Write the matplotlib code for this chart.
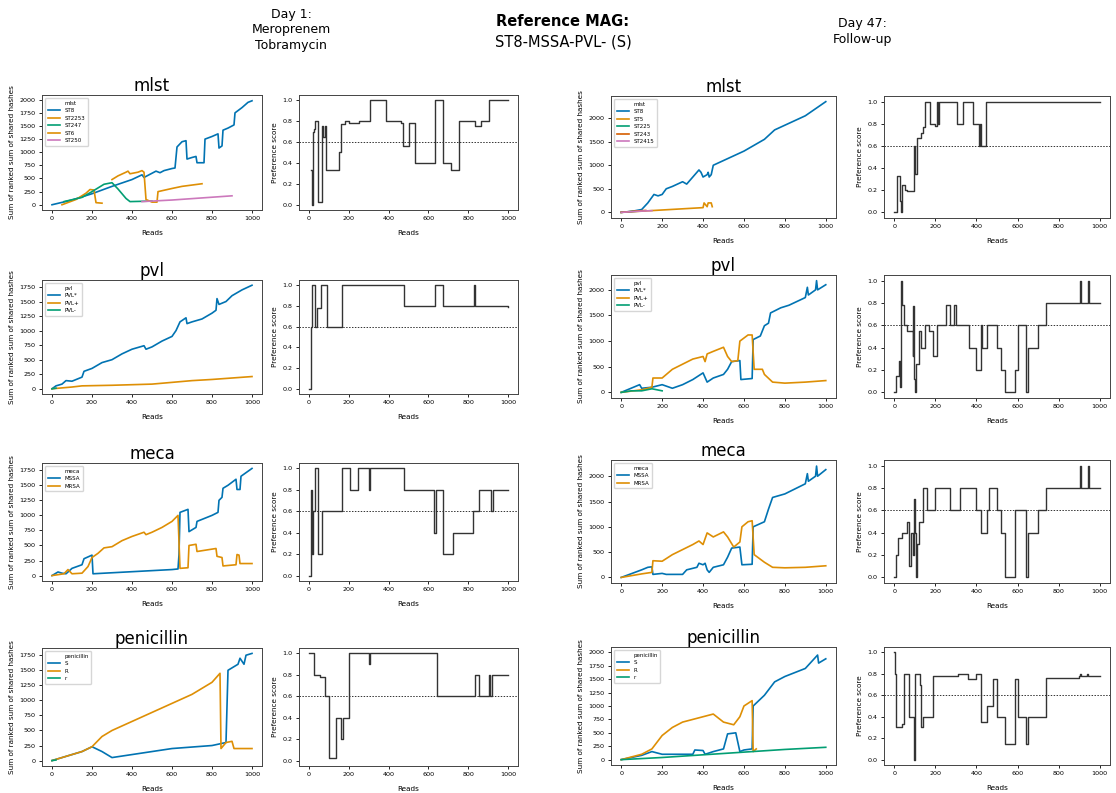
import matplotlib
matplotlib.use("Agg")
import matplotlib.pyplot as plt
from matplotlib.lines import Line2D

plt.rcParams['font.family'] = ['DejaVu Sans']

# seaborn "colorblind" palette
BLUE, ORANGE, GREEN, VERM, PINK = "#0173b2", "#de8f05", "#029e73", "#d55e00", "#cc78bc"

# ---------------- Day 1 data (read, value) ----------------
d1_mlst_st8 = [(0, 0), (100, 90), (200, 210), (300, 350), (400, 480), (450, 570), (460, 520),
               (480, 560), (520, 640), (540, 610), (560, 650), (600, 690), (615, 700), (625, 1100),
               (650, 1200), (670, 1220), (675, 870), (700, 900), (720, 920), (725, 800), (760, 800),
               (765, 1250), (800, 1300), (830, 1350), (835, 1080), (850, 1120), (855, 1420),
               (880, 1460), (910, 1520), (915, 1750), (950, 1850), (980, 1950), (1000, 1980)]
d1_mlst_st2253 = [(50, 0), (120, 100), (170, 220), (190, 290), (210, 280), (220, 40), (250, 30)]
d1_mlst_st247 = [(60, 60), (150, 140), (200, 250), (260, 390), (300, 420), (330, 300), (370, 120),
                 (390, 60), (500, 70)]
d1_mlst_st6 = [(300, 480), (330, 550), (370, 620), (380, 640), (390, 590), (430, 620), (450, 650),
               (460, 620), (470, 100), (500, 50), (525, 50), (530, 250), (600, 310), (650, 350),
               (750, 400)]
d1_mlst_st250 = [(450, 60), (600, 90), (750, 130), (900, 170)]

d1_mlst_pref = [(10, 0.33), (15, 0.0), (20, 0.7), (25, 0.72), (30, 0.8), (40, 0.8), (45, 0.03),
                (60, 0.03), (65, 0.75), (70, 0.65), (80, 0.75), (85, 0.33), (145, 0.33), (150, 0.5),
                (160, 0.77), (180, 0.8), (200, 0.78), (250, 0.8), (300, 0.8), (305, 1.0), (380, 1.0),
                (385, 0.8), (450, 0.8), (460, 0.78), (470, 0.56), (500, 0.56), (505, 0.78),
                (530, 0.78), (535, 0.4), (630, 0.4), (635, 1.0), (670, 1.0), (675, 0.4), (710, 0.4),
                (715, 0.33), (750, 0.33), (755, 0.8), (830, 0.8), (835, 0.75), (860, 0.75),
                (865, 0.8), (900, 0.8), (905, 1.0), (1000, 1.0)]

d1_pvl_plus = [(0, 0), (20, 50), (50, 80), (70, 140), (100, 130), (150, 200), (160, 300),
               (200, 350), (250, 450), (300, 500), (350, 600), (400, 680), (460, 740), (470, 680),
               (500, 720), (550, 820), (600, 900), (620, 1000), (640, 1150), (670, 1220),
               (675, 1120), (700, 1150), (750, 1200), (800, 1300), (820, 1350), (825, 1550),
               (835, 1450), (870, 1500), (900, 1600), (950, 1700), (1000, 1780)]
d1_pvl_pm = [(0, 0), (100, 30), (150, 50), (300, 60), (500, 80), (600, 110), (700, 140),
             (800, 160), (1000, 210)]
d1_pvl_minus = [(0, 0), (10, 5), (20, 10)]

d1_pvl_pref = [(0, 0.0), (10, 0.6), (15, 1.0), (25, 1.0), (30, 0.6), (40, 0.78), (60, 1.0),
               (85, 1.0), (90, 0.6), (160, 0.6), (165, 1.0), (470, 1.0), (475, 0.8), (630, 0.8),
               (635, 1.0), (670, 1.0), (675, 0.8), (825, 0.8), (830, 1.0), (835, 0.8),
               (1000, 0.79)]

d1_meca_mssa = [(0, 0), (30, 60), (50, 40), (70, 30), (100, 120), (150, 180), (160, 280),
                (200, 340), (205, 30), (600, 100), (630, 110), (635, 350), (640, 1050),
                (680, 1100), (685, 730), (720, 800), (725, 900), (800, 1000), (830, 1050),
                (835, 1250), (850, 1300), (855, 1450), (880, 1500), (920, 1600), (925, 1430),
                (940, 1430), (945, 1650), (1000, 1780)]
d1_meca_mrsa = [(0, 0), (60, 30), (80, 100), (100, 30), (150, 40), (180, 150), (200, 300),
                (230, 370), (260, 460), (300, 480), (350, 580), (400, 650), (460, 720),
                (470, 680), (500, 720), (550, 800), (600, 900), (630, 1000), (640, 120),
                (680, 130), (685, 500), (720, 520), (725, 400), (820, 450), (825, 320),
                (850, 300), (855, 160), (920, 180), (925, 350), (935, 340), (940, 200),
                (1000, 200)]

d1_meca_pref = [(0, 0.0), (10, 0.8), (15, 0.2), (20, 0.6), (30, 1.0), (40, 1.0), (45, 0.2),
                (60, 0.2), (65, 0.6), (160, 0.6), (165, 1.0), (200, 1.0), (205, 0.8), (240, 0.8),
                (245, 1.0), (300, 1.0), (302, 0.8), (305, 1.0), (470, 1.0), (475, 0.8),
                (625, 0.8), (630, 0.4), (640, 0.8), (670, 0.8), (675, 0.2), (720, 0.2),
                (725, 0.4), (820, 0.4), (825, 0.6), (850, 0.6), (855, 0.8), (910, 0.8),
                (912, 0.6), (925, 0.8), (1000, 0.8)]

d1_pen_s = [(0, 0), (100, 100), (150, 150), (200, 230), (250, 150), (300, 50), (600, 200),
            (800, 250), (870, 300), (880, 1500), (930, 1600), (940, 1700), (960, 1600),
            (970, 1750), (1000, 1780)]
d1_pen_r = [(0, 0), (50, 50), (100, 100), (150, 150), (200, 230), (250, 400), (300, 500),
            (400, 650), (500, 800), (600, 950), (700, 1100), (800, 1300), (840, 1450),
            (845, 200), (870, 300), (900, 320), (910, 200), (1000, 200)]
d1_pen_r2 = [(0, 0), (10, 5), (20, 10)]

d1_pen_pref = [(0, 1.0), (20, 1.0), (25, 0.8), (50, 0.8), (55, 0.78), (80, 0.6), (100, 0.02),
               (130, 0.02), (135, 0.4), (160, 0.2), (170, 0.4), (190, 0.4), (200, 1.0),
               (300, 1.0), (302, 0.9), (305, 1.0), (640, 1.0), (645, 0.6), (830, 0.6),
               (835, 0.8), (850, 0.8), (855, 0.6), (900, 0.6), (905, 0.8), (910, 0.6),
               (920, 0.8), (1000, 0.8)]

# ---------------- Day 47 data (read, value) ----------------
d47_mlst_st8 = [(0, 0), (50, 20), (100, 60), (130, 200), (160, 380), (180, 350), (200, 380),
                (220, 500), (250, 550), (300, 650), (320, 600), (350, 750), (370, 850),
                (380, 900), (390, 850), (400, 750), (420, 800), (425, 850), (430, 750),
                (440, 800), (450, 1000), (500, 1100), (600, 1300), (700, 1550), (750, 1750),
                (800, 1850), (900, 2050), (950, 2200), (1000, 2350)]
d47_mlst_st5 = [(0, 0), (400, 100), (405, 200), (420, 120), (425, 200), (440, 200), (445, 120)]
d47_mlst_st225 = [(0, 0), (60, 20), (100, 30)]
d47_mlst_st243 = [(0, 0), (80, 30), (120, 40)]
d47_mlst_st2415 = [(0, 0), (90, 25), (150, 35)]

d47_mlst_pref = [(0, 0.0), (10, 0.0), (15, 0.33), (30, 0.1), (35, 0.0), (40, 0.25), (50, 0.2),
                 (60, 0.19), (90, 0.19), (95, 0.6), (100, 0.35), (110, 0.67), (130, 0.72),
                 (140, 0.77), (150, 1.0), (170, 1.0), (175, 0.8), (200, 0.78), (210, 1.0),
                 (215, 0.8), (220, 1.0), (300, 1.0), (305, 0.8), (330, 0.8), (335, 1.0),
                 (380, 1.0), (385, 0.8), (400, 0.8), (410, 0.6), (415, 0.8), (420, 0.6),
                 (440, 0.6), (445, 1.0), (1000, 1.0)]

d47_pvl_plus = [(0, 0), (30, 50), (90, 150), (100, 80), (150, 100), (200, 150), (250, 80),
                (300, 150), (350, 250), (400, 380), (420, 200), (450, 280), (500, 350),
                (520, 450), (540, 600), (580, 620), (585, 250), (640, 270), (645, 1030),
                (680, 1100), (700, 1300), (720, 1350), (730, 1550), (780, 1650), (820, 1700),
                (900, 1850), (910, 2050), (915, 1900), (950, 2000), (955, 2180), (960, 2000),
                (1000, 2100)]
d47_pvl_pm = [(0, 0), (100, 50), (150, 100), (155, 280), (200, 280), (250, 450), (300, 550),
              (350, 650), (400, 700), (410, 600), (420, 750), (450, 800), (500, 880),
              (520, 700), (540, 600), (570, 620), (580, 1000), (620, 1120), (640, 1120),
              (650, 450), (690, 450), (700, 350), (740, 200), (800, 180), (900, 200),
              (1000, 230)]
d47_pvl_minus = [(0, 0), (50, 30), (100, 30), (150, 70), (200, 30)]

d47_pvl_pref = [(0, 0.0), (10, 0.15), (25, 0.28), (30, 0.05), (35, 1.0), (40, 0.78), (45, 0.6),
                (60, 0.55), (90, 0.33), (92, 0.77), (95, 0.12), (100, 0.0), (105, 0.25),
                (120, 0.55), (130, 0.4), (150, 0.6), (170, 0.55), (190, 0.33), (210, 0.6),
                (250, 0.78), (270, 0.6), (290, 0.78), (300, 0.6), (360, 0.6), (365, 0.4),
                (400, 0.2), (420, 0.6), (425, 0.4), (450, 0.6), (500, 0.4), (520, 0.2),
                (540, 0.0), (590, 0.2), (600, 0.6), (640, 0.0), (650, 0.4), (700, 0.6),
                (740, 0.8), (900, 0.8), (905, 1.0), (910, 0.8), (945, 1.0), (950, 0.8),
                (1000, 0.8)]

d47_meca_mssa = [(0, 0), (100, 150), (130, 200), (150, 210), (155, 60), (200, 80), (220, 60),
                 (300, 60), (320, 150), (370, 200), (380, 280), (400, 250), (410, 280),
                 (420, 150), (430, 100), (450, 200), (500, 250), (520, 400), (540, 580),
                 (580, 600), (590, 250), (640, 260), (645, 1000), (700, 1100), (720, 1350),
                 (740, 1580), (800, 1650), (900, 1850), (910, 2050), (915, 1900), (950, 2000),
                 (955, 2200), (960, 2000), (1000, 2130)]
d47_meca_mrsa = [(0, 0), (100, 70), (150, 100), (155, 330), (200, 320), (250, 450), (300, 550),
                 (350, 650), (380, 720), (400, 650), (420, 880), (450, 800), (500, 900),
                 (520, 800), (550, 600), (580, 700), (590, 1000), (620, 1100), (640, 1120),
                 (650, 450), (700, 300), (740, 200), (800, 190), (900, 200), (1000, 230)]

d47_meca_pref = [(0, 0.0), (10, 0.2), (20, 0.35), (40, 0.4), (60, 0.5), (70, 0.1), (80, 0.4),
                 (90, 0.2), (95, 0.7), (100, 0.4), (105, 0.0), (110, 0.3), (120, 0.5),
                 (140, 0.8), (160, 0.6), (200, 0.8), (270, 0.6), (320, 0.8), (400, 0.6),
                 (420, 0.4), (450, 0.6), (460, 0.8), (500, 0.6), (520, 0.4), (540, 0.0),
                 (590, 0.6), (640, 0.0), (650, 0.4), (700, 0.6), (740, 0.8), (900, 0.8),
                 (905, 1.0), (910, 0.8), (945, 1.0), (950, 0.8), (1000, 0.8)]

d47_pen_s = [(0, 0), (100, 80), (150, 150), (200, 100), (350, 100), (360, 180), (400, 170),
             (410, 100), (450, 150), (500, 200), (520, 480), (560, 500), (580, 150),
             (600, 180), (640, 200), (645, 1000), (700, 1200), (750, 1450), (800, 1550),
             (900, 1700), (960, 1950), (965, 1800), (1000, 1880)]
d47_pen_r = [(0, 0), (100, 100), (150, 200), (200, 450), (250, 600), (300, 700), (400, 800),
             (450, 850), (500, 700), (550, 650), (580, 800), (600, 1000), (640, 1100),
             (645, 150), (660, 200)]
d47_pen_r2 = [(0, 0), (200, 40), (400, 90), (600, 140), (800, 190), (1000, 230)]

d47_pen_pref = [(0, 1.0), (5, 0.8), (10, 0.3), (40, 0.33), (45, 0.8), (60, 0.8), (70, 0.4),
                (90, 0.4), (95, 0.0), (100, 0.8), (120, 0.8), (125, 0.7), (130, 0.3),
                (140, 0.4), (180, 0.4), (190, 0.78), (300, 0.78), (310, 0.8), (360, 0.75),
                (380, 0.75), (400, 0.8), (420, 0.35), (450, 0.5), (480, 0.75), (500, 0.4),
                (520, 0.4), (540, 0.15), (590, 0.75), (600, 0.4), (640, 0.15), (650, 0.4),
                (700, 0.4), (740, 0.76), (900, 0.78), (905, 0.8), (910, 0.78), (940, 0.8),
                (945, 0.78), (1000, 0.78)]

PREF_THRESHOLD = 0.6

FS_TICK = 4.6
FS_LAB = 5.2


def style(ax):
    ax.tick_params(labelsize=FS_TICK, length=2.5, width=0.6, pad=2)
    for s in ax.spines.values():
        s.set_linewidth(0.7)
        s.set_color("#444444")
    ax.set_xlabel("Reads", fontsize=FS_LAB, labelpad=6)
    ax.set_xlim(-50, 1050)
    ax.set_xticks([0, 200, 400, 600, 800, 1000])


def line_panel(rect, title, hue, series, ylim, yticks):
    ax = fig.add_axes(rect)
    handles = [Line2D([], [], linestyle="none")]
    labels = [hue]
    for label, pts, col in series:
        xs = [p[0] for p in pts]
        ys = [p[1] for p in pts]
        ln, = ax.plot(xs, ys, color=col, lw=1.2)
        handles.append(ln)
        labels.append(label)
    style(ax)
    ax.set_ylim(*ylim)
    ax.set_yticks(yticks)
    ax.set_ylabel("Sum of ranked sum of shared hashes", fontsize=FS_LAB, labelpad=3)
    ax.set_title(title, fontsize=12, pad=3)
    ax.legend(handles, labels, loc="upper left", fontsize=4.0, frameon=True,
              handlelength=2.2, borderpad=0.5, labelspacing=0.45, framealpha=0.8,
              edgecolor="#cccccc")
    return ax


def pref_panel(rect, pts):
    ax = fig.add_axes(rect)
    xs = [p[0] for p in pts]
    ys = [p[1] for p in pts]
    ax.plot(xs, ys, color="#333333", lw=1.0, drawstyle="steps-post")
    ax.axhline(PREF_THRESHOLD, color="#333333", lw=0.7, ls=(0, (1.5, 1.5)))
    style(ax)
    ax.set_ylim(-0.05, 1.05)
    ax.set_yticks([0.0, 0.2, 0.4, 0.6, 0.8, 1.0])
    ax.set_ylabel("Preference score", fontsize=FS_LAB, labelpad=3)
    return ax


W, H = 1116, 793
fig = plt.figure(figsize=(W / 100, H / 100), dpi=100)


def R(x0, y0, x1, y1):
    return [x0 / W, 1 - y1 / H, (x1 - x0) / W, (y1 - y0) / H]


# column pixel extents
L1 = (42, 262)
P1 = (299, 518)
L2 = (611, 836)
P2 = (884, 1110)
rows_left = [(95, 210), (280, 394), (463, 581), (648, 766)]
rows_right = [(96, 218), (275, 398), (460, 583), (647, 765)]

yt_d1 = [0, 250, 500, 750, 1000, 1250, 1500, 1750, 2000]

# Day 1
line_panel(R(L1[0], rows_left[0][0], L1[1], rows_left[0][1]), "mlst", "mlst",
           [("ST8", d1_mlst_st8, BLUE), ("ST2253", d1_mlst_st2253, ORANGE),
            ("ST247", d1_mlst_st247, GREEN), ("ST6", d1_mlst_st6, ORANGE),
            ("ST250", d1_mlst_st250, PINK)], (-100, 2090), yt_d1)
pref_panel(R(P1[0], rows_left[0][0], P1[1], rows_left[0][1]), d1_mlst_pref)

line_panel(R(L1[0], rows_left[1][0], L1[1], rows_left[1][1]), "pvl", "pvl",
           [("PVL*", d1_pvl_plus, BLUE), ("PVL+", d1_pvl_pm, ORANGE),
            ("PVL-", d1_pvl_minus, GREEN)], (-90, 1870), yt_d1[:-1])
pref_panel(R(P1[0], rows_left[1][0], P1[1], rows_left[1][1]), d1_pvl_pref)

line_panel(R(L1[0], rows_left[2][0], L1[1], rows_left[2][1]), "meca", "meca",
           [("MSSA", d1_meca_mssa, BLUE), ("MRSA", d1_meca_mrsa, ORANGE)],
           (-90, 1870), yt_d1[:-1])
pref_panel(R(P1[0], rows_left[2][0], P1[1], rows_left[2][1]), d1_meca_pref)

line_panel(R(L1[0], rows_left[3][0], L1[1], rows_left[3][1]), "penicillin", "penicillin",
           [("S", d1_pen_s, BLUE), ("R", d1_pen_r, ORANGE), ("r", d1_pen_r2, GREEN)],
           (-90, 1870), yt_d1[:-1])
pref_panel(R(P1[0], rows_left[3][0], P1[1], rows_left[3][1]), d1_pen_pref)

# Day 47
yt_500 = [0, 500, 1000, 1500, 2000]
line_panel(R(L2[0], rows_right[0][0], L2[1], rows_right[0][1]), "mlst", "mlst",
           [("ST8", d47_mlst_st8, BLUE), ("ST5", d47_mlst_st5, ORANGE),
            ("ST225", d47_mlst_st225, GREEN), ("ST243", d47_mlst_st243, VERM),
            ("ST2415", d47_mlst_st2415, PINK)], (-120, 2470), yt_500)
pref_panel(R(P2[0], rows_right[0][0], P2[1], rows_right[0][1]), d47_mlst_pref)

line_panel(R(L2[0], rows_right[1][0], L2[1], rows_right[1][1]), "pvl", "pvl",
           [("PVL*", d47_pvl_plus, BLUE), ("PVL+", d47_pvl_pm, ORANGE),
            ("PVL-", d47_pvl_minus, GREEN)], (-110, 2290), yt_500)
pref_panel(R(P2[0], rows_right[1][0], P2[1], rows_right[1][1]), d47_pvl_pref)

line_panel(R(L2[0], rows_right[2][0], L2[1], rows_right[2][1]), "meca", "meca",
           [("MSSA", d47_meca_mssa, BLUE), ("MRSA", d47_meca_mrsa, ORANGE)],
           (-110, 2320), yt_500)
pref_panel(R(P2[0], rows_right[2][0], P2[1], rows_right[2][1]), d47_meca_pref)

line_panel(R(L2[0], rows_right[3][0], L2[1], rows_right[3][1]), "penicillin", "penicillin",
           [("S", d47_pen_s, BLUE), ("R", d47_pen_r, ORANGE), ("r", d47_pen_r2, GREEN)],
           (-100, 2100), yt_d1)
pref_panel(R(P2[0], rows_right[3][0], P2[1], rows_right[3][1]), d47_pen_pref)

# Column headers
fig.text(291 / W, 1 - 8 / H, "Day 1:\nMeroprenem\nTobramycin", ha="center", va="top",
         fontsize=9, linespacing=1.25)
fig.text(563 / W, 1 - 21 / H, "Reference MAG:", ha="center", va="center",
         fontsize=10.5, fontweight="bold")
fig.text(563 / W, 1 - 42 / H, "ST8-MSSA-PVL- (S)", ha="center", va="center", fontsize=10.5)
fig.text(862 / W, 1 - 17 / H, "Day 47:\nFollow-up", ha="center", va="top",
         fontsize=9, linespacing=1.25)

fig.savefig("out.png", dpi=100, facecolor="white")
